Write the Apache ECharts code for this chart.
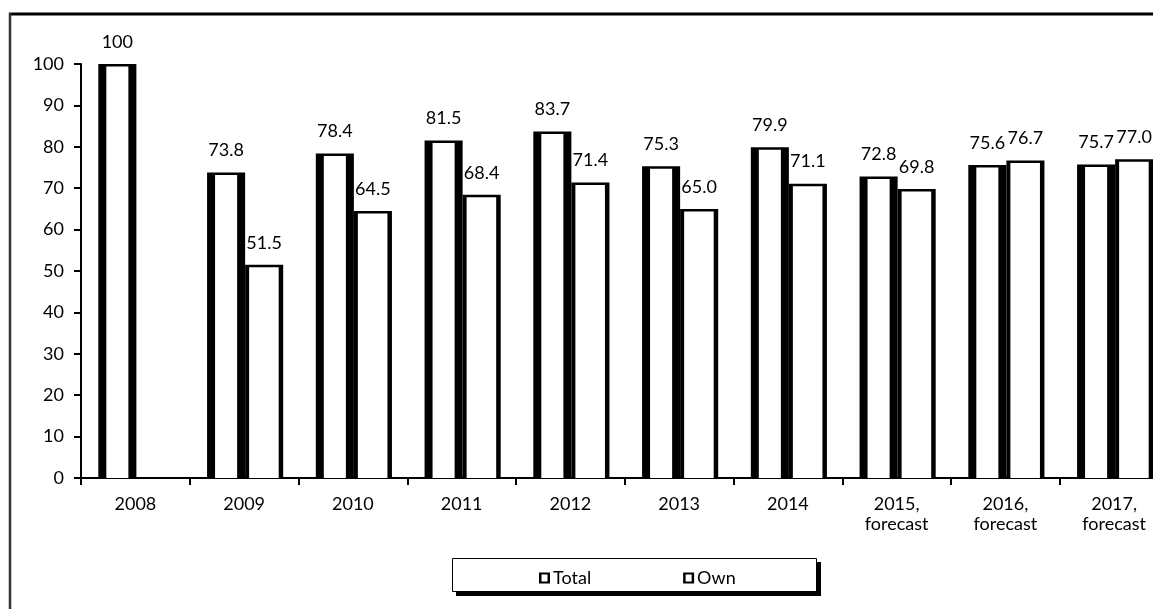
<!DOCTYPE html>
<html>
<head>
<meta charset="utf-8">
<script src="https://cdn.jsdelivr.net/npm/echarts@6/dist/echarts.min.js"></script>
<style>
  html, body { margin: 0; padding: 0; background: #fff; overflow: hidden; }
  /* the plot runs a little past the right edge of the window */
  #chart { width: 1175px; height: 609px; }
</style>
</head>
<body>
<div id="chart"></div>
<script>
// Index values, 2008 = 100
const categories = ['2008', '2009', '2010', '2011', '2012', '2013', '2014',
  '2015,\nforecast', '2016,\nforecast', '2017,\nforecast'];
const totalValues = [100, 73.8, 78.4, 81.5, 83.7, 75.3, 79.9, 72.8, 75.6, 75.7];
const ownValues = ['-', 51.5, 64.5, 68.4, 71.4, 65.0, 71.1, 69.8, 76.7, 77.0];
const yTicks = [0, 10, 20, 30, 40, 50, 60, 70, 80, 90, 100];

const FONT = 'Lato, "DejaVu Sans", sans-serif';
const FONT_SIZE = 18;

function fmt(v) {
  return v >= 100 ? String(v) : v.toFixed(1);
}

// Bar with heavy black sides and a thin black top, white inside
function barRenderer(offset, sideL, sideR, topW) {
  return function (params, api) {
    const v = api.value(1);
    if (v === '-' || v == null || isNaN(v)) return null;
    const idx = api.value(0);
    const base = api.coord([idx, 0]);
    const top = api.coord([idx, v]);
    const band = api.size([1, 0])[0];
    const w = band * 0.35;
    const x0 = base[0] + offset * w + 1;
    const h = base[1] - top[1];
    return {
      type: 'group',
      children: [
        { type: 'rect', shape: { x: x0, y: top[1], width: w, height: h }, style: { fill: '#000' } },
        { type: 'rect', shape: { x: x0 + sideL, y: top[1] + topW, width: w - sideL - sideR, height: h - topW }, style: { fill: '#fff' } },
        { type: 'text', style: { text: fmt(v), x: x0 + w / 2, y: top[1] - 22, align: 'center', verticalAlign: 'middle', fill: '#000', font: FONT_SIZE + 'px ' + FONT } }
      ]
    };
  };
}

const iconPath = 'path://M0,0L11,0L11,11L0,11Z M2.5,2L2.5,9L8.5,9L8.5,2Z';

const chart = echarts.init(document.getElementById('chart'), null, { renderer: 'canvas' });
chart.setOption({
  backgroundColor: '#fff',
  animation: false,
  textStyle: { fontFamily: FONT },
  graphic: [
    { type: 'line', shape: { x1: 9, y1: 14, x2: 1175, y2: 14 }, style: { stroke: '#000', lineWidth: 3 } },
    { type: 'line', shape: { x1: 10, y1: 13, x2: 10, y2: 609 }, style: { stroke: '#333', lineWidth: 2.5 } },
    { type: 'rect', shape: { x: 456, y: 562, width: 365, height: 34 }, style: { fill: '#000' } },
    { type: 'rect', shape: { x: 452.5, y: 558.5, width: 364, height: 33 }, style: { fill: '#fff', stroke: '#000', lineWidth: 1 } }
  ],
  grid: { left: 81, top: 64, right: 6.5, bottom: 131, containLabel: false },
  legend: {
    left: 452, top: 558,
    padding: [11, 0, 11, 87],
    itemWidth: 11, itemHeight: 11, itemGap: 92,
    textStyle: { fontSize: FONT_SIZE, color: '#000', fontFamily: FONT, width: 40, padding: [0, 0, 0, -2] },
    data: [
      { name: 'Total', icon: iconPath, itemStyle: { color: '#000' } },
      { name: 'Own', icon: iconPath, itemStyle: { color: '#000' } }
    ]
  },
  xAxis: {
    type: 'category',
    data: categories,
    axisLine: { lineStyle: { color: '#000', width: 2 } },
    axisTick: { show: true, inside: false, length: 7, lineStyle: { color: '#000', width: 2 } },
    axisLabel: { color: '#000', fontSize: FONT_SIZE, fontFamily: FONT, lineHeight: 20, margin: 16, interval: 0 },
    splitLine: { show: false }
  },
  yAxis: {
    type: 'value',
    min: yTicks[0], max: yTicks[yTicks.length - 1], interval: 10,
    axisLine: { show: true, lineStyle: { color: '#000', width: 2 } },
    axisTick: { show: true, length: 7, lineStyle: { color: '#000', width: 2 } },
    axisLabel: { color: '#000', fontSize: FONT_SIZE, fontFamily: FONT, margin: 17 },
    splitLine: { show: false }
  },
  series: [
    {
      name: 'Total', type: 'custom',
      itemStyle: { color: '#000' },
      renderItem: barRenderer(-1, 8, 8, 2.5),
      encode: { x: 0, y: 1 },
      data: totalValues.map((v, i) => [i, v]),
      z: 2
    },
    {
      name: 'Own', type: 'custom',
      itemStyle: { color: '#000' },
      renderItem: barRenderer(0, 4, 4.5, 2.5),
      encode: { x: 0, y: 1 },
      data: ownValues.map((v, i) => [i, v]),
      z: 2
    }
  ]
});
</script>
</body>
</html>
